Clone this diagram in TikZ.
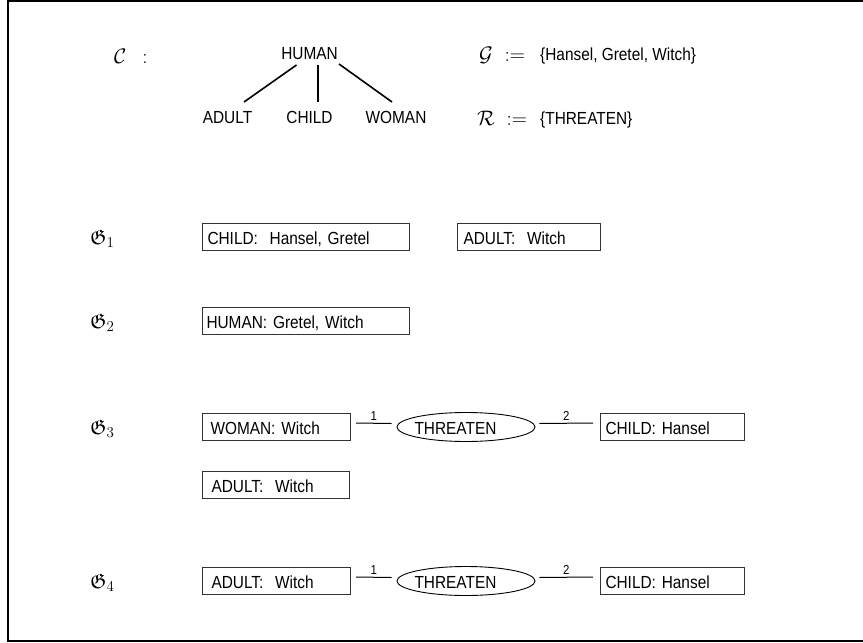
\RequirePackage{fix-cm}
\documentclass[tikz,border=0pt]{standalone}
\usepackage{amssymb}
\usepackage[no-math]{fontspec}
\setmainfont{Liberation Sans}[FakeStretch=0.88]
\DeclareMathSizes{21}{21}{15}{11}
\usetikzlibrary{shapes.geometric}
\begin{document}
\begin{tikzpicture}[x=1pt,y=-1pt,
  lbl/.style={font=\fontsize{17.5}{20}\selectfont, inner sep=0},
  mth/.style={font=\fontsize{21}{24}\selectfont, inner sep=0},
  cbox/.style={draw=black!80, line width=1pt, font=\fontsize{17.5}{20}\selectfont,
    minimum height=27, inner ysep=0, text height=21, text depth=6, anchor=west, align=left},
  rel/.style={draw, ellipse, line width=0.9pt, minimum width=138, minimum height=29, inner sep=0},
  arc/.style={line width=1pt},
  num/.style={font=\fontsize{13}{14}\selectfont, inner sep=2pt, above},
  tree/.style={line width=1.6pt},
  frame/.style={line width=2pt}]
\useasboundingbox (0,0) rectangle (863,643);
\draw[frame] (863,1) -- (8,1) -- (8,641) -- (863,641);

% header
\node[mth, anchor=base west] (cc) at (114,63) {$\mathcal{C}\hspace{16pt}{:}$};
\node[lbl, anchor=base] (human) at (309.5,59) {HUMAN};
\node[lbl, anchor=base] (adult) at (227.5,123) {ADULT};
\node[lbl, anchor=base] (child) at (309.5,123) {CHILD};
\node[lbl, anchor=base] (woman) at (396,123) {WOMAN};
\draw[tree] ([shift={(-13,6)}]human.base) -- ([shift={(16.5,-21)}]adult.base);
\draw[tree] ([shift={(8.5,6)}]human.base) -- ([shift={(8.5,-21)}]child.base);
\draw[tree] ([shift={(29.5,5)}]human.base) -- ([shift={(-4,-21)}]woman.base);

\node[mth, anchor=base west] (gg) at (479,61) {$\mathcal{G}\;\mathrel{:=}$};
\node[lbl, anchor=base west] (gset) at (540,60) {\{Hansel, Gretel, Witch\}};
\node[mth, anchor=base west] (rr) at (477,125) {$\mathcal{R}\;\mathrel{:=}$};
\node[lbl, anchor=base west] (rset) at (540,124) {\{THREATEN\}};

% G1
\node[mth, anchor=base west] (g1) at (90,244) {$\mathfrak{G}_1$};
\node[cbox, inner xsep=5, text width=197] (b11) at (202,236.5) {CHILD:\ \ Hansel, Gretel};
\node[cbox, inner xsep=6, text width=131] (b12) at (457,236.5) {ADULT:\ \ Witch};

% G2
\node[mth, anchor=base west] (g2) at (90,328) {$\mathfrak{G}_2$};
\node[cbox, inner xsep=4, text width=199] (b21) at (202,320.5) {HUMAN: Gretel, Witch};

% G3
\node[mth, anchor=base west] (g3) at (90,434) {$\mathfrak{G}_3$};
\node[cbox, inner xsep=8, text width=132] (b31) at (202,426.5) {WOMAN: Witch};
\node[rel] (e3) at (466,427) {};
\node[lbl] (t3) at (455.5,428) {THREATEN};
\node[cbox, inner xsep=5, text width=134] (b32) at (600,426.5) {CHILD: Hansel};
\draw[arc] ([shift={(5,-3.5)}]b31.east) -- node[num] (n31) {1} ([shift={(-5,-3.5)}]e3.west);
\draw[arc] ([shift={(4,-3.5)}]e3.east) -- node[num] (n32) {2} ([shift={(-7,-3.5)}]b32.west);
\node[cbox, inner xsep=9, text width=129] (b33) at (202,485) {ADULT:\ \ Witch};

% G4
\node[mth, anchor=base west] (g4) at (90,588) {$\mathfrak{G}_4$};
\node[cbox, inner xsep=9, text width=130] (b41) at (202,580.5) {ADULT:\ \ Witch};
\node[rel] (e4) at (466,581) {};
\node[lbl] (t4) at (455.5,582) {THREATEN};
\node[cbox, inner xsep=5, text width=134] (b42) at (600,580.5) {CHILD: Hansel};
\draw[arc] ([shift={(5,-3.5)}]b41.east) -- node[num] (n41) {1} ([shift={(-5,-3.5)}]e4.west);
\draw[arc] ([shift={(4,-3.5)}]e4.east) -- node[num] (n42) {2} ([shift={(-7,-3.5)}]b42.west);
\end{tikzpicture}
\end{document}
